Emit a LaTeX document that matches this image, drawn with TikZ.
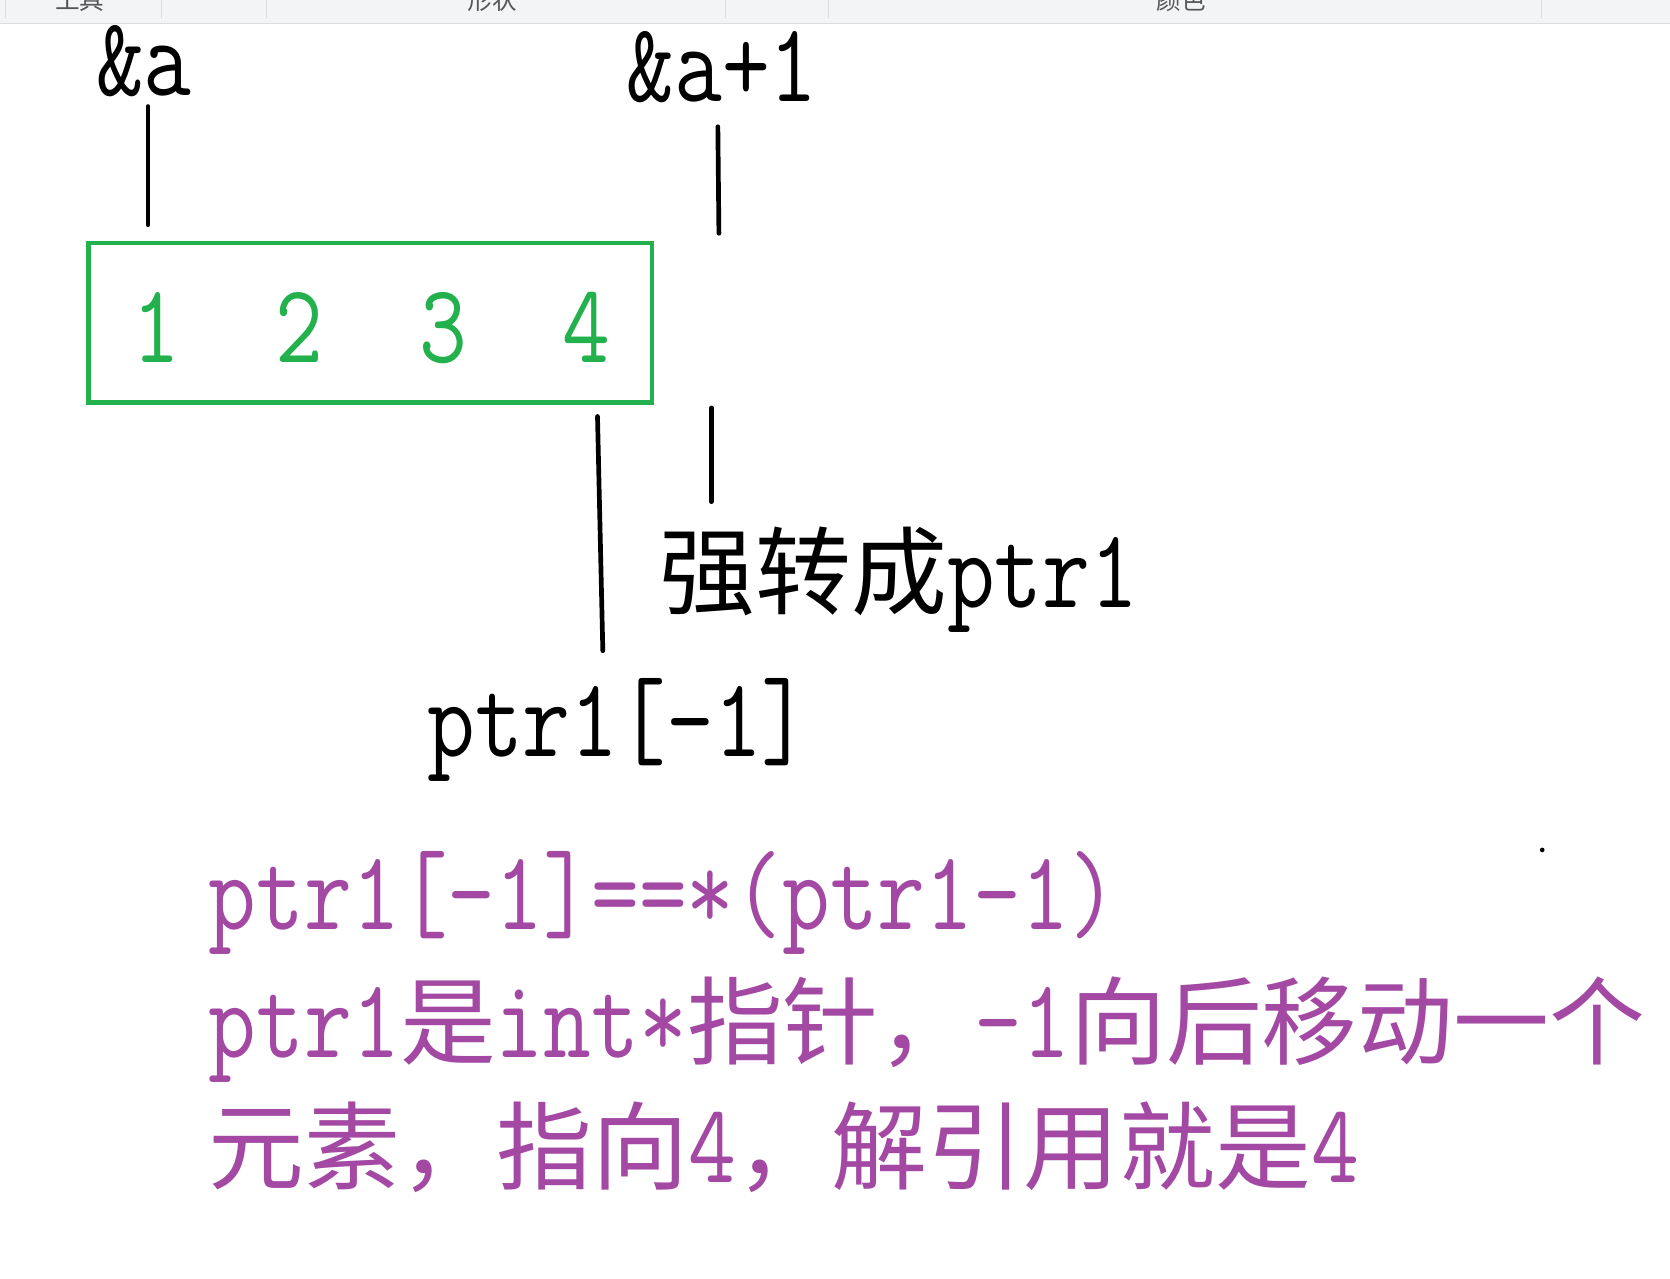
\documentclass[tikz,border=0pt]{standalone}
\usepackage{fontspec}
\usepackage{graphicx}
\newfontfamily\cjk{Noto Sans CJK SC}
\definecolor{paintgreen}{HTML}{22B14C}
\definecolor{paintpurple}{HTML}{A349A4}
\definecolor{barbg}{HTML}{F3F4F6}
\definecolor{barline}{HTML}{DADCE0}
\definecolor{bartext}{HTML}{555555}
\newcommand{\mylat}[1]{\scalebox{0.99}[1.2]{\ttfamily #1}}
\newcommand{\myzh}[1]{{\cjk\fontsize{90}{100}\selectfont #1}}
\tikzset{
  txt/.style={inner sep=0pt, anchor=base west, font=\fontsize{88}{100}\selectfont},
  pointer/.style={line width=4.4pt, line cap=round, black},
  bartxt/.style={inner sep=0pt, anchor=base, text=bartext, font=\cjk\fontsize{23}{26}\selectfont},
}
\begin{document}
\begin{tikzpicture}[x=1pt,y=-1pt]
\clip (0,0) rectangle (1568,1200);
\fill[white] (0,0) rectangle (1568,1200);
% toolbar strip
\fill[barbg] (0,0) rectangle (1568,22);
\draw[barline, line width=1.2pt] (0,22) -- (1568,22);
\foreach \xx in {5,152,250,681,778,1447} {\draw[barline, line width=1pt] (\xx,0) -- (\xx,17);}
\node[bartxt] (t1) at (75,9) {工具};
\node[bartxt] (t2) at (462,9) {形状};
\node[bartxt] (t3) at (1109,9) {颜色};
% labels
\node[txt] (aa) at (90,90) {\mylat{\&a}};
\node[txt] (aa1) at (588,95) {\mylat{\&a+1}};
% array box
\node[draw=paintgreen, line width=4pt, minimum width=529pt, minimum height=150pt, inner sep=0pt] (arr) at (347.5,303) {};
\foreach \xx/\d in {147/1,281/2,416/3,551/4} {
  \node[txt, anchor=base, text=paintgreen] (d\d) at (\xx,340) {\mylat{\d}};
}
% pointer marks
\coordinate (l1a) at (139,100); \coordinate (l1b) at (139,211);
\coordinate (l2a) at (674,119); \coordinate (l2b) at (675,219);
\coordinate (l3a) at (561,391); \coordinate (l3b) at (566,611);
\coordinate (l4a) at (668,383); \coordinate (l4b) at (668,471);
\draw[pointer] (l1a) -- (l1b);
\draw[pointer] (l2a) -- (l2b);
\draw[pointer] (l3a) -- (l3b);
\draw[pointer] (l4a) -- (l4b);
\node[txt] (cast) at (619,570) {\myzh{强转成}\mylat{ptr1}};
\node[txt] (idx) at (401,710) {\mylat{ptr1[-1]}};
% explanation
\begin{scope}[every node/.append style={text=paintpurple}]
\node[txt] (e1) at (196,873) {\mylat{ptr1[-1]==*(ptr1-1)}};
\node[txt] (e2) at (196,993) {\mylat{ptr1}\myzh{是}\mylat{int*}\myzh{指针，}\mylat{-1}\myzh{向后移动一个}};
\node[txt] (e3) at (196,1110) {\myzh{元素，指向}\mylat{4}\myzh{，解引用就是}\mylat{4}};
\end{scope}
\fill[black] (1448,798) circle (2.2pt);
\end{tikzpicture}
\end{document}
